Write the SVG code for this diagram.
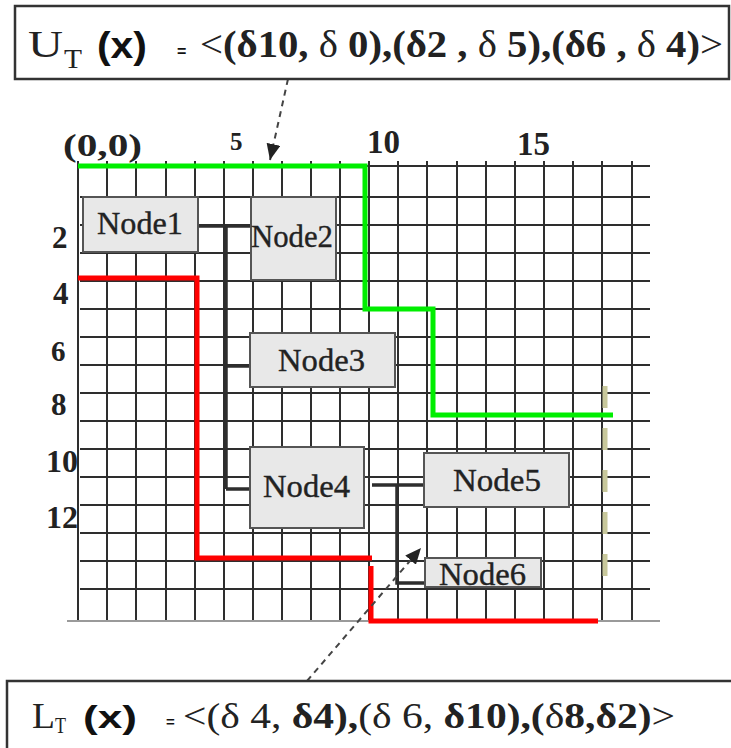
<svg xmlns="http://www.w3.org/2000/svg" width="731" height="748" viewBox="0 0 731 748">
<style>
.grid{stroke:#2e2e2e;stroke-width:2;fill:none}
.axis{font-family:"Liberation Serif",serif;font-weight:bold;fill:#222}
.node rect{fill:#e8e8e8;stroke:#555;stroke-width:2}
.node text{font-family:"Liberation Serif",serif;font-size:31px;fill:#222;stroke:#222;stroke-width:0.35}
.conn{stroke:#2e2e2e;stroke-width:3.5;fill:none}
.dash{stroke:#444;stroke-width:2;stroke-dasharray:6 5;fill:none}
.form{font-family:"Liberation Serif",serif;fill:#222}
.arial{font-family:"Liberation Sans",Arial,sans-serif;font-weight:bold;fill:#111}
.b{font-weight:bold}
</style>
<defs>
<marker id="ah" markerUnits="userSpaceOnUse" markerWidth="18" markerHeight="14" refX="16" refY="7" orient="auto">
<path d="M0,0 L16,7 L0,14 Z" fill="#222"/>
</marker>
</defs>
<rect width="731" height="748" fill="#fff"/>

<g id="grid">
<path class="grid" d="M78,161V621 M107,161V621 M136,161V621 M166,161V621 M195,161V621 M224,161V621 M253,161V621 M282,161V621 M311,161V621 M340,161V621 M369,161V621 M398,161V621 M427,161V621 M457,161V621 M486,161V621 M515,161V621 M544,161V621 M573,161V621 M602,161V621 M632,161V621"/>
<path class="grid" d="M78,166H650 M80,197H650 M80,225H650 M80,253H650 M80,281H650 M80,309H650 M80,337H650 M80,365H650 M80,393H650 M80,421H650 M80,449H650 M80,477H650 M80,505H650 M80,533H650 M80,561H650 M80,589H650"/>
<path d="M67,621H660" stroke="#9a9a9a" stroke-width="2"/>
</g>

<g id="axis-labels" class="axis">
<text x="63" y="156" font-size="32" textLength="79" lengthAdjust="spacingAndGlyphs">(0,0)</text>
<text x="230" y="150" font-size="25">5</text>
<text x="367" y="153" font-size="33" textLength="33" lengthAdjust="spacingAndGlyphs">10</text>
<text x="517" y="155" font-size="33" textLength="33" lengthAdjust="spacingAndGlyphs">15</text>
<text x="52" y="248" font-size="31">2</text>
<text x="53" y="304" font-size="31">4</text>
<text x="51" y="361" font-size="29">6</text>
<text x="51" y="415" font-size="31">8</text>
<text x="46" y="472" font-size="32" textLength="32" lengthAdjust="spacingAndGlyphs">10</text>
<text x="46" y="528" font-size="32" textLength="32" lengthAdjust="spacingAndGlyphs">12</text>
</g>

<g id="upper-bound">
<polyline points="78,166 365,166 365,309 433,309 433,415 613,415" fill="none" stroke="#00ee00" stroke-width="5"/>
</g>
<g id="lower-bound">
<polyline points="78,278 197,278 197,558 372,558" fill="none" stroke="#ff0000" stroke-width="5"/>
<polyline points="371,566 371,621 598,621" fill="none" stroke="#ff0000" stroke-width="5"/>
</g>
<g id="limit">
<line x1="605" y1="386" x2="605" y2="577" stroke="#c8c89c" stroke-width="5" stroke-dasharray="22 20"/>
</g>

<g id="connectors">
<path class="conn" d="M198,226H251 M226,226V489 M226,366H250 M226,489H252"/>
<path class="conn" d="M372,485H424 M397,485V583H425"/>
<line class="dash" x1="288" y1="79" x2="270" y2="160" marker-end="url(#ah)"/>
<line class="dash" x1="307" y1="681" x2="421" y2="548" marker-end="url(#ah)"/>
</g>

<g id="node1" class="node"><rect x="83" y="197" width="115" height="55"/><text x="97" y="234" textLength="86" lengthAdjust="spacingAndGlyphs">Node1</text></g>
<g id="node2" class="node"><rect x="251" y="197" width="85" height="83"/><text x="251" y="247" textLength="82" lengthAdjust="spacingAndGlyphs">Node2</text></g>
<g id="node3" class="node"><rect x="250" y="333" width="145" height="54"/><text x="278" y="371" textLength="87" lengthAdjust="spacingAndGlyphs">Node3</text></g>
<g id="node4" class="node"><rect x="250" y="447" width="114" height="81"/><text x="263" y="497" textLength="87" lengthAdjust="spacingAndGlyphs">Node4</text></g>
<g id="node5" class="node"><rect x="424" y="453" width="145" height="54"/><text x="453" y="491" textLength="88" lengthAdjust="spacingAndGlyphs">Node5</text></g>
<g id="node6" class="node"><rect x="425" y="558" width="116" height="29"/><text x="439" y="585" textLength="87" lengthAdjust="spacingAndGlyphs">Node6</text></g>

<g id="upper-formula">
<rect x="15" y="6" width="714" height="73" fill="#fff" stroke="#333" stroke-width="2.5"/>
<text class="form" x="28" y="57" font-size="38" textLength="35" lengthAdjust="spacingAndGlyphs">U</text>
<text class="form" x="64" y="68" font-size="28" textLength="18" lengthAdjust="spacingAndGlyphs">T</text>
<text class="arial" x="97" y="58" font-size="36" textLength="50" lengthAdjust="spacingAndGlyphs">(x)</text>
<text class="arial" x="177" y="57" font-size="16" font-weight="normal">=</text>
<text class="form" x="200" y="57" font-size="37" textLength="523" lengthAdjust="spacingAndGlyphs">&lt;<tspan class="b">(δ10, </tspan>δ<tspan class="b"> 0),(δ2 , </tspan>δ<tspan class="b"> 5),(δ6 , </tspan>δ<tspan class="b"> 4)</tspan>&gt;</text>
</g>

<g id="lower-formula">
<path d="M7,748V681H731" fill="none" stroke="#333" stroke-width="2.5"/>
<text class="form" x="32" y="728" font-size="35" textLength="23" lengthAdjust="spacingAndGlyphs">L</text>
<text class="form" x="55" y="733" font-size="24" textLength="11" lengthAdjust="spacingAndGlyphs">T</text>
<text class="arial" x="83" y="728" font-size="32" textLength="54" lengthAdjust="spacingAndGlyphs">(x)</text>
<text class="arial" x="166" y="727" font-size="15" font-weight="normal">=</text>
<text class="form" x="183" y="728" font-size="36" textLength="492" lengthAdjust="spacingAndGlyphs">&lt;(δ 4, <tspan class="b">δ4),</tspan>(δ 6, <tspan class="b">δ10),(</tspan>δ<tspan class="b">8,δ2)</tspan>&gt;</text>
</g>
</svg>
